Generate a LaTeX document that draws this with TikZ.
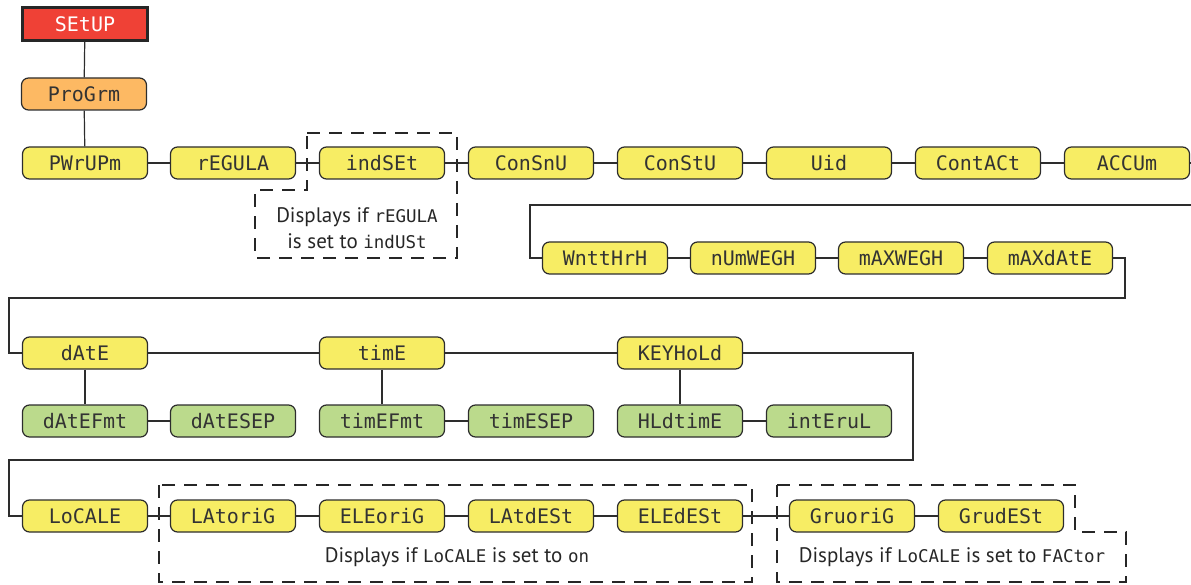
\documentclass[tikz,border=0pt]{standalone}
\usepackage{fontspec}
\setmainfont{PT Sans}
\newfontfamily\lcdfont{DejaVu Sans Mono}
\newcommand{\lcd}{\lcdfont\fontsize{20pt}{22pt}\selectfont}
\newcommand{\lcds}[1]{{\lcdfont\fontsize{17.5pt}{19pt}\selectfont #1}}
\definecolor{setupred}{RGB}{239,65,54}
\definecolor{progorange}{RGB}{253,185,99}
\definecolor{menuyellow}{RGB}{247,237,100}
\definecolor{subgreen}{RGB}{187,218,140}
\definecolor{edge}{RGB}{45,45,45}
\tikzset{
  menubox/.style={draw=edge, line width=1.2pt, rounded corners=7pt, minimum width=125pt, minimum height=32pt, inner sep=0pt, font=\lcd, text=black!80},
  ybox/.style={menubox, fill=menuyellow},
  gbox/.style={menubox, fill=subgreen},
  obox/.style={menubox, fill=progorange},
  rbox/.style={draw=black!85, line width=2.2pt, fill=setupred, minimum width=125pt, minimum height=33pt, inner sep=0pt, font=\lcd, text=white},
  conn/.style={draw=edge, line width=1.2pt},
  dashbox/.style={draw=black!85, line width=1.6pt, dash pattern=on 13pt off 9pt},
  note/.style={font=\fontsize{21pt}{26pt}\selectfont, text=black!85, align=center, inner sep=0pt}
}
\begin{document}
\begin{tikzpicture}[x=1pt, y=-1pt]
\useasboundingbox (0,0) rectangle (1191,585);
% dashed groups
\draw[dashbox] (307,133) -- (457,133) -- (457,258) -- (255,258) -- (255,190) -- (307,190) -- cycle;
\draw[dashbox] (159,485) rectangle (752,582);
\draw[dashbox] (777,485) -- (1075,485) -- (1075,532) -- (1126,532) -- (1126,582) -- (777,582) -- cycle;
% top
\node[rbox] (setup) at (85,24) {SEtUP};
\node[obox] (progrm) at (84,94) {ProGrm};
% row 1
\node[ybox] (pwrupm) at (85,163) {PWrUPm};
\node[ybox] (regula) at (233,163) {rEGULA};
\node[ybox] (indset) at (382,163) {indSEt};
\node[ybox] (consnu) at (531,163) {ConSnU};
\node[ybox] (constu) at (680,163) {ConStU};
\node[ybox] (uid) at (829,163) {Uid};
\node[ybox] (contact) at (978,163) {ContACt};
\node[ybox] (accum) at (1127,163) {ACCUm};
% row 2
\node[ybox] (wntthrh) at (605,258) {WnttHrH};
\node[ybox] (numwegh) at (753,258) {nUmWEGH};
\node[ybox] (maxwegh) at (901,258) {mAXWEGH};
\node[ybox] (maxdate) at (1050,258) {mAXdAtE};
% row 3
\node[ybox] (date) at (85,353) {dAtE};
\node[ybox] (time) at (382,353) {timE};
\node[ybox] (keyhold) at (680,353) {KEYHoLd};
% row 4
\node[gbox] (datefmt) at (85,421) {dAtEFmt};
\node[gbox] (datesep) at (233,421) {dAtESEP};
\node[gbox] (timefmt) at (382,421) {timEFmt};
\node[gbox] (timesep) at (531,421) {timESEP};
\node[gbox] (hldtime) at (680,421) {HLdtimE};
\node[gbox] (interval) at (829,421) {intEruL};
% row 5
\node[ybox] (locale) at (85,516) {LoCALE};
\node[ybox] (latorig) at (233,516) {LAtoriG};
\node[ybox] (eleorig) at (382,516) {ELEoriG};
\node[ybox] (latdest) at (531,516) {LAtdESt};
\node[ybox] (eledest) at (680,516) {ELEdESt};
\node[ybox] (gruorig) at (852,516) {GruoriG};
\node[ybox] (grudest) at (1001,516) {GrudESt};
% notes
\node[note] (note1) at (357,228) {Displays if \lcds{rEGULA}\\is set to \lcds{indUSt}};
\node[note] (note2) at (457,557) {Displays if \lcds{LoCALE} is set to \lcds{on}};
\node[note] (note3) at (952,557) {Displays if \lcds{LoCALE} is set to \lcds{FACtor}};
% wrap coordinates
\coordinate (r1end) at (1191,163);
\coordinate (r2start) at (1191,205);
\coordinate (r2turn) at (530,205);
\coordinate (r2end) at (1125,298);
\coordinate (r3turn) at (9,298);
\coordinate (r3end) at (913,460);
\coordinate (r5turn) at (9,460);
% connectors
\draw[conn] (setup) -- (progrm);
\draw[conn] (progrm) -- (pwrupm);
\draw[conn] (pwrupm) -- (regula);
\draw[conn] (regula) -- (indset);
\draw[conn] (indset) -- (consnu);
\draw[conn] (consnu) -- (constu);
\draw[conn] (constu) -- (uid);
\draw[conn] (uid) -- (contact);
\draw[conn] (contact) -- (accum);
\draw[conn] (accum) -- (r1end);
\draw[conn] (r2start) -- (r2turn) |- (wntthrh.west);
\draw[conn] (wntthrh) -- (numwegh);
\draw[conn] (numwegh) -- (maxwegh);
\draw[conn] (maxwegh) -- (maxdate);
\draw[conn] (maxdate.east) -| (r2end) -- (r3turn) |- (date.west);
\draw[conn] (date) -- (time);
\draw[conn] (time) -- (keyhold);
\draw[conn] (keyhold.east) -| (r3end) -- (r5turn) |- (locale.west);
\draw[conn] (date) -- (datefmt);
\draw[conn] (datefmt) -- (datesep);
\draw[conn] (time) -- (timefmt);
\draw[conn] (timefmt) -- (timesep);
\draw[conn] (keyhold) -- (hldtime);
\draw[conn] (hldtime) -- (interval);
\draw[conn] (locale) -- (latorig);
\draw[conn] (latorig) -- (eleorig);
\draw[conn] (eleorig) -- (latdest);
\draw[conn] (latdest) -- (eledest);
\draw[conn] (eledest) -- (gruorig);
\draw[conn] (gruorig) -- (grudest);
\end{tikzpicture}
\end{document}
